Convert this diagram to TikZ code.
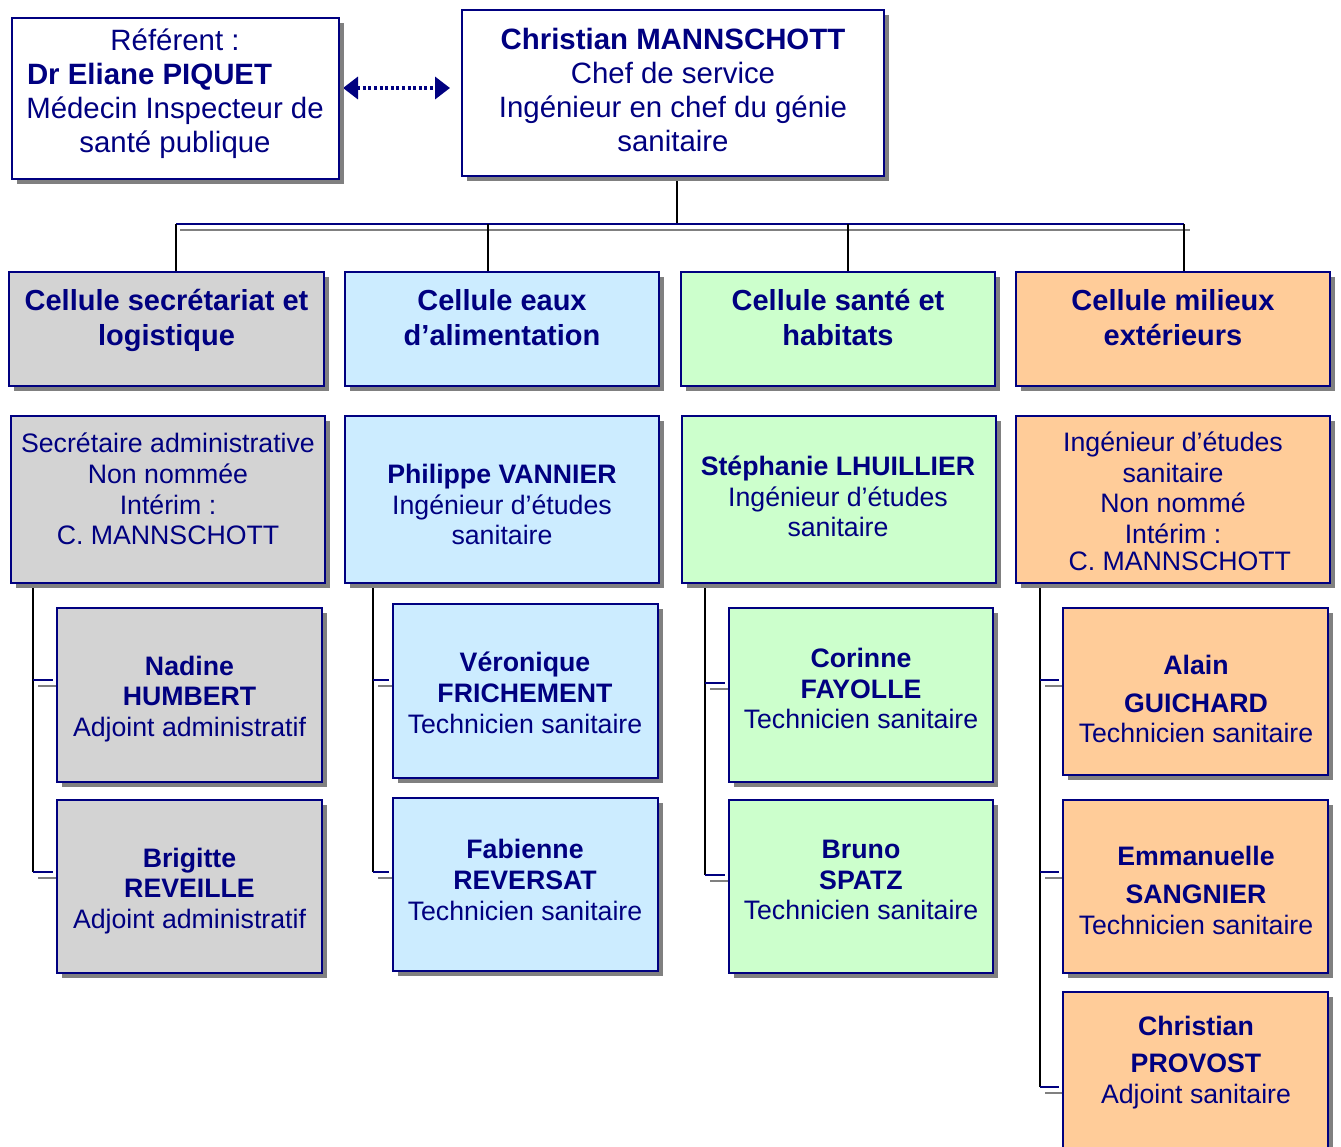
\documentclass[tikz,border=0pt]{standalone}
\usepackage{fontspec}
\setmainfont{Liberation Sans}
\usetikzlibrary{shadows,arrows.meta,calc}
\definecolor{navy}{RGB}{0,0,128}
\definecolor{cgray}{RGB}{211,211,211}
\definecolor{cblue}{RGB}{204,236,255}
\definecolor{cgreen}{RGB}{204,255,204}
\definecolor{cpeach}{RGB}{255,204,153}
\definecolor{shad}{RGB}{128,128,128}
\begin{document}
\begin{tikzpicture}[x=1pt,y=-1pt,
 box/.style={draw=navy, line width=2pt, anchor=north west, inner sep=0pt, outer sep=0pt,
   general shadow={fill=shad, shadow xshift=5pt, shadow yshift=-5pt}},
 txt/.style={text=navy, align=center, inner sep=0pt},
 big/.style={font=\fontsize{29.4}{34}\selectfont},
 hd/.style={font=\bfseries\fontsize{29}{35}\selectfont},
 sm/.style={font=\fontsize{26.7}{30.8}\selectfont},
 vline/.style={black, line width=2pt},
 hline/.style={navy, line width=2pt},
 sline/.style={shad, line width=2pt},
]
\useasboundingbox (0,0) rectangle (1341,1146);
\clip (0,0) rectangle (1341,1146);

\coordinate (bus) at (677,224);
\coordinate (b1) at (176,224);
\coordinate (b2) at (488,224);
\coordinate (b3) at (848,224);
\coordinate (b4) at (1184,224);

% anchor nodes for connectors
\path
 node[anchor=north west, minimum width=327pt, minimum height=161pt, inner sep=0pt, outer sep=0pt] (ref) at (12,18) {}
 node[anchor=north west, minimum width=422pt, minimum height=166pt, inner sep=0pt, outer sep=0pt] (chef) at (462,10) {}
 node[anchor=north west, minimum width=315pt, minimum height=114pt, inner sep=0pt, outer sep=0pt] (c1) at (9,272) {}
 node[anchor=north west, minimum width=314pt, minimum height=114pt, inner sep=0pt, outer sep=0pt] (c2) at (345,272) {}
 node[anchor=north west, minimum width=314pt, minimum height=114pt, inner sep=0pt, outer sep=0pt] (c3) at (681,272) {}
 node[anchor=north west, minimum width=314pt, minimum height=114pt, inner sep=0pt, outer sep=0pt] (c4) at (1016,272) {}
 node[anchor=north west, minimum width=314pt, minimum height=167pt, inner sep=0pt, outer sep=0pt] (r1) at (11,416) {}
 node[anchor=north west, minimum width=314pt, minimum height=167pt, inner sep=0pt, outer sep=0pt] (r2) at (345,416) {}
 node[anchor=north west, minimum width=314pt, minimum height=167pt, inner sep=0pt, outer sep=0pt] (r3) at (682,416) {}
 node[anchor=north west, minimum width=314pt, minimum height=167pt, inner sep=0pt, outer sep=0pt] (r4) at (1016,416) {};

% top arrow
\coordinate (ar1) at (343,88);
\coordinate (ar2) at (450,88);
\draw[navy, line width=3.5pt, dash pattern=on 3pt off 2.6pt,
  {Triangle[length=15pt,width=22pt]}-{Triangle[length=15pt,width=22pt]}] (ar1) -- (ar2);

% main bus
\draw[vline] (chef.south -| bus) -- (bus);
\draw[sline] ([shift={(4,6)}]b1) -- ([shift={(6,6)}]b4);
\draw[hline] (b1) -- (b4);
\draw[vline] (b1) -- (b1 |- c1.north);
\draw[vline] (b2) -- (b2 |- c2.north);
\draw[vline] (b3) -- (b3 |- c3.north);
\draw[vline] (b4) -- (b4 |- c4.north);

% side connectors
\coordinate (k1a) at (33,680);  \coordinate (k1b) at (33,872);
\coordinate (k2a) at (373,680); \coordinate (k2b) at (373,872);
\coordinate (k3a) at (705,683); \coordinate (k3b) at (705,875);
\coordinate (k4a) at (1040,680); \coordinate (k4b) at (1040,872); \coordinate (k4c) at (1040,1087);

\draw[vline] (k1a |- r1.south) -- (k1b);
\draw[vline] (k2a |- r2.south) -- (k2b);
\draw[vline] (k3a |- r3.south) -- (k3b);
\draw[vline] (k4a |- r4.south) -- (k4c);

\foreach \k/\bx in {k1a/57,k1b/57,k2a/393,k2b/393,k3a/729,k3b/729,k4a/1063,k4b/1063,k4c/1063}{
  \draw[sline] ([shift={(5,6)}]\k) -- ([shift={(0,6)}]\k -| \bx,0);
  \draw[hline] (\k) -- ([shift={(-4,0)}]\k -| \bx,0);
}

% ---------- visible boxes ----------
\node[box, fill=white, minimum width=327pt, minimum height=161pt] (refb) at (12,18) {};
\node[box, fill=white, minimum width=422pt, minimum height=166pt] (chefb) at (462,10) {};

\node[box, fill=cgray,  minimum width=315pt, minimum height=114pt] (c1b) at (9,272) {};
\node[box, fill=cblue,  minimum width=314pt, minimum height=114pt] (c2b) at (345,272) {};
\node[box, fill=cgreen, minimum width=314pt, minimum height=114pt] (c3b) at (681,272) {};
\node[box, fill=cpeach, minimum width=314pt, minimum height=114pt] (c4b) at (1016,272) {};

\node[box, fill=cgray,  minimum width=314pt, minimum height=167pt] (r1b) at (11,416) {};
\node[box, fill=cblue,  minimum width=314pt, minimum height=167pt] (r2b) at (345,416) {};
\node[box, fill=cgreen, minimum width=314pt, minimum height=167pt] (r3b) at (682,416) {};
\node[box, fill=cpeach, minimum width=314pt, minimum height=167pt] (r4b) at (1016,416) {};

\node[box, fill=cgray,  minimum width=265pt, minimum height=174pt] (n1a) at (57,608) {};
\node[box, fill=cgray,  minimum width=265pt, minimum height=173pt] (n1b) at (57,800) {};
\node[box, fill=cblue,  minimum width=265pt, minimum height=174pt] (n2a) at (393,604) {};
\node[box, fill=cblue,  minimum width=265pt, minimum height=173pt] (n2b) at (393,798) {};
\node[box, fill=cgreen, minimum width=264pt, minimum height=174pt] (n3a) at (729,608) {};
\node[box, fill=cgreen, minimum width=264pt, minimum height=173pt] (n3b) at (729,800) {};
\node[box, fill=cpeach, minimum width=265pt, minimum height=167pt] (n4a) at (1063,608) {};
\node[box, fill=cpeach, minimum width=265pt, minimum height=173pt] (n4b) at (1063,800) {};
\node[box, fill=cpeach, minimum width=265pt, minimum height=174pt] (n4c) at (1063,992) {};

% ---------- texts ----------
\node[txt, big] (t-ref) at (175,93.5) {Référent :\\\makebox[296pt][l]{\textbf{Dr Eliane PIQUET}}\\Médecin Inspecteur de\\santé publique};
\node[txt, big] (t-chef) at (673,89.5) {\textbf{Christian MANNSCHOTT}\\Chef de service\\Ingénieur en chef du génie\\sanitaire};

\node[txt, hd] (t-c1) at (166.5,320.5) {Cellule secrétariat et\\logistique};
\node[txt, hd] (t-c2) at (502,317.5) {Cellule eaux\\d’alimentation};
\node[txt, hd] (t-c3) at (838,317.5) {Cellule santé et\\habitats};
\node[txt, hd] (t-c4) at (1173,317.5) {Cellule milieux\\extérieurs};

\node[txt, sm] (t-r1) at (168,489) {Secrétaire administrative\\Non nommée\\Intérim :\\C. MANNSCHOTT};
\node[txt, sm] (t-r2) at (502,504.5) {\textbf{Philippe VANNIER}\\Ingénieur d’études\\sanitaire};
\node[txt, sm] (t-r3) at (838,496.5) {\textbf{Stéphanie LHUILLIER}\\Ingénieur d’études\\sanitaire};
\node[txt, sm] (t-r4) at (1173,501) {Ingénieur d’études\\sanitaire\\Non nommé\\Intérim :\\[-4.5pt]\makebox[236pt][r]{C. MANNSCHOTT}};

\node[txt, sm] (t-n1a) at (189.5,699) {\textbf{Nadine}\\\textbf{HUMBERT}\\Adjoint administratif};
\node[txt, sm] (t-n1b) at (189.5,891) {\textbf{Brigitte}\\\textbf{REVEILLE}\\Adjoint administratif};
\node[txt, sm] (t-n2a) at (525,693) {\textbf{Véronique}\\\textbf{FRICHEMENT}\\Technicien sanitaire};
\node[txt, sm] (t-n2b) at (525,880) {\textbf{Fabienne}\\\textbf{REVERSAT}\\Technicien sanitaire};
\node[txt, sm] (t-n3a) at (861,688.5) {\textbf{Corinne}\\\textbf{FAYOLLE}\\Technicien sanitaire};
\node[txt, sm] (t-n3b) at (861,880) {\textbf{Bruno}\\\textbf{SPATZ}\\Technicien sanitaire};
\node[txt, sm] (t-n4a) at (1196,699) {\textbf{Alain}\\[7pt]\textbf{GUICHARD}\\Technicien sanitaire};
\node[txt, sm] (t-n4b) at (1196,890.5) {\textbf{Emmanuelle}\\[7pt]\textbf{SANGNIER}\\Technicien sanitaire};
\node[txt, sm] (t-n4c) at (1196,1062.5) {\textbf{Christian}\\[7pt]\textbf{PROVOST}\\Adjoint sanitaire};
\end{tikzpicture}
\end{document}
